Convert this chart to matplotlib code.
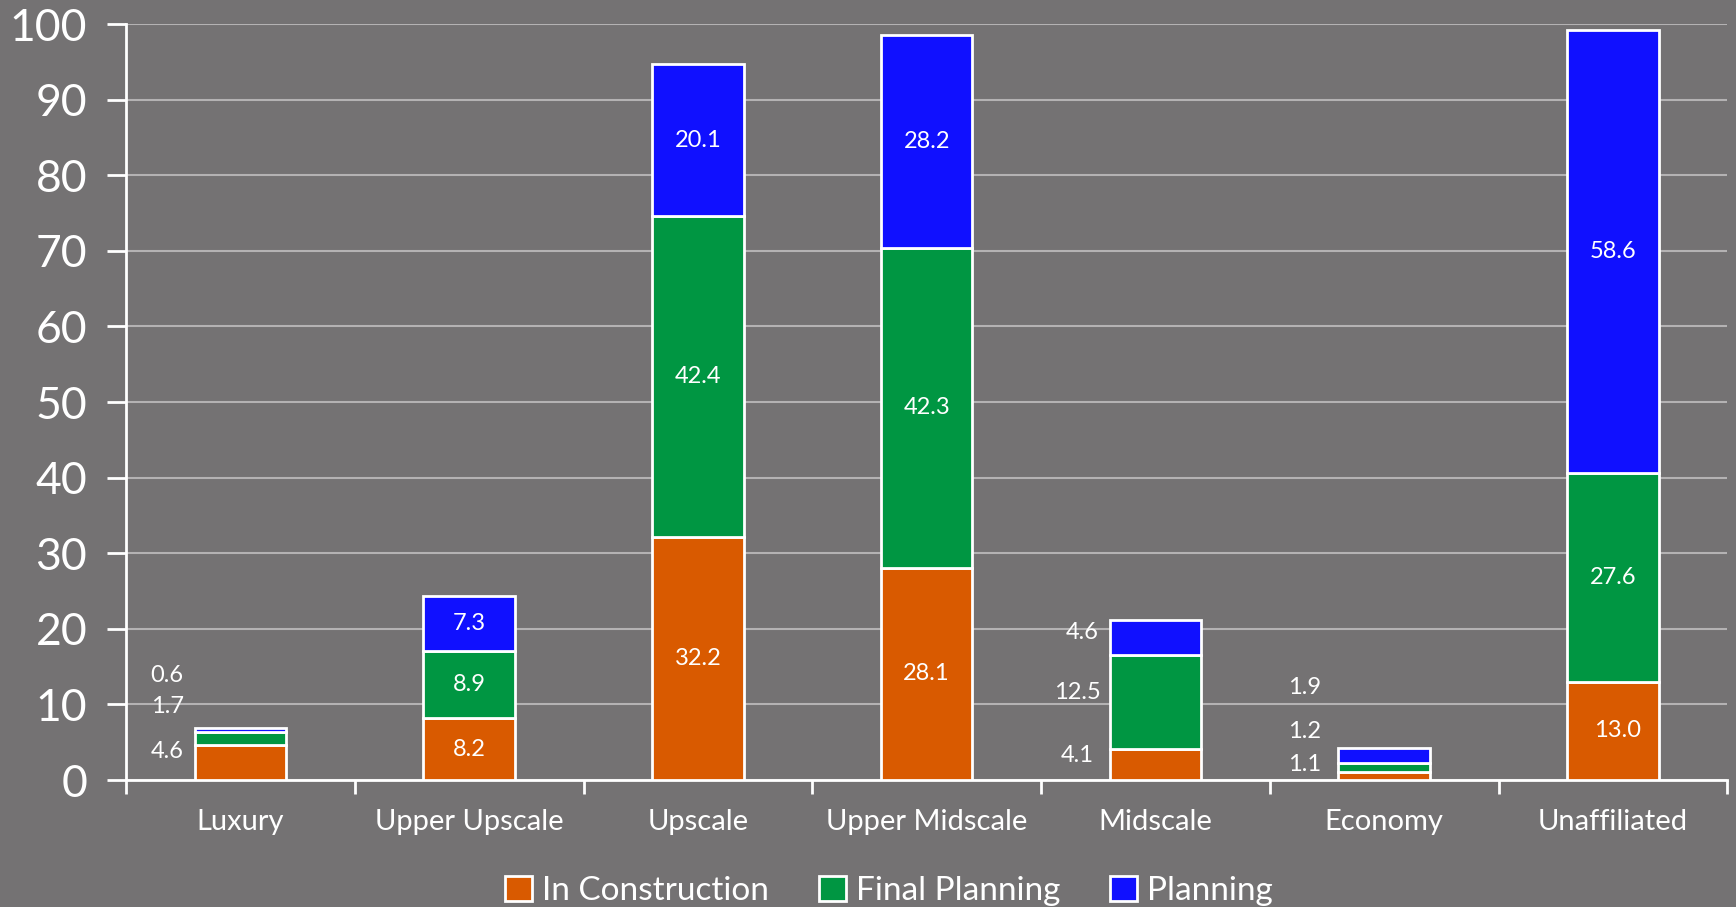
import matplotlib
matplotlib.use("Agg")
import matplotlib.pyplot as plt
import numpy as np

# ---------- data ----------
categories = ["Luxury", "Upper Upscale", "Upscale", "Upper Midscale",
              "Midscale", "Economy", "Unaffiliated"]
in_construction = [4.6, 8.2, 32.2, 28.1, 4.1, 1.1, 13.0]
final_planning = [1.7, 8.9, 42.4, 42.3, 12.5, 1.2, 27.6]
planning = [0.6, 7.3, 20.1, 28.2, 4.6, 1.9, 58.6]
series_names = ["In Construction", "Final Planning", "Planning"]

# labels of small segments sit left of the bar: (x offset, y in data units)
outside_labels = {
    0: [(-0.32, 3.8), (-0.32, 9.7), (-0.32, 13.8)],
    4: [(-0.34, 3.2), (-0.34, 11.6), (-0.32, 19.5)],
    5: [(-0.35, 2.0), (-0.35, 6.4), (-0.35, 12.2)],
}

BG = "#747273"
colors = ["#D95A00", "#009642", "#1010FF"]
FONT = "Lato"

fig = plt.figure(figsize=(17.36, 9.07), dpi=100, facecolor=BG)
ax = fig.add_axes([0.0726, 0.140, 0.9224, 0.8335])
ax.set_facecolor(BG)

x = np.arange(len(categories))
w = 0.40
series = [in_construction, final_planning, planning]
bottom = np.zeros(len(categories))
for vals, c, name in zip(series, colors, series_names):
    ax.bar(x, vals, w, bottom=bottom, color=c, edgecolor="white",
           linewidth=2, label=name, zorder=3)
    bottom += np.array(vals)

# value labels
for i in range(len(categories)):
    base = 0.0
    for s, vals in enumerate(series):
        v = vals[i]
        if i in outside_labels:
            dx, yy = outside_labels[i][s]
            ax.text(x[i] + dx, yy, f"{v:.1f}", ha="center", va="center",
                    color="white", fontsize=17, family=FONT, zorder=4)
        else:
            dx = 0.02 if (i == 6 and s == 0) else 0.0
            ax.text(x[i] + dx, base + v / 2, f"{v:.1f}", ha="center",
                    va="center", color="white", fontsize=17, family=FONT,
                    zorder=4)
        base += v

ax.set_xlim(-0.5, len(categories) - 0.5)
ax.set_ylim(0, 100)
ax.set_yticks(np.arange(0, 101, 10))
ax.yaxis.grid(True, color="#B4B2B3", lw=1.5, zorder=0)
ax.tick_params(axis="y", colors="white", labelcolor="white", labelsize=32,
               length=14, width=2, direction="out", pad=14)
for lab in ax.get_yticklabels():
    lab.set_family(FONT)

ax.set_xticks(x)
ax.set_xticklabels(categories, family=FONT, fontsize=21, color="white")
ax.set_xticks(np.arange(-0.5, len(categories)), minor=True)
ax.tick_params(axis="x", which="major", length=0, pad=21)
ax.tick_params(axis="x", which="minor", colors="white", length=10, width=2,
               direction="out")

for side in ["top", "right"]:
    ax.spines[side].set_visible(False)
for side in ["left", "bottom"]:
    ax.spines[side].set_color("white")
    ax.spines[side].set_linewidth(2)

leg = fig.legend(loc="lower center", bbox_to_anchor=(0.512, -0.032), ncol=3,
                 frameon=False, prop={"family": FONT, "size": 24},
                 handlelength=0.8, handleheight=0.8, handletextpad=0.3,
                 columnspacing=1.5, labelcolor="white")

fig.savefig("out.png", dpi=100, facecolor=BG)
